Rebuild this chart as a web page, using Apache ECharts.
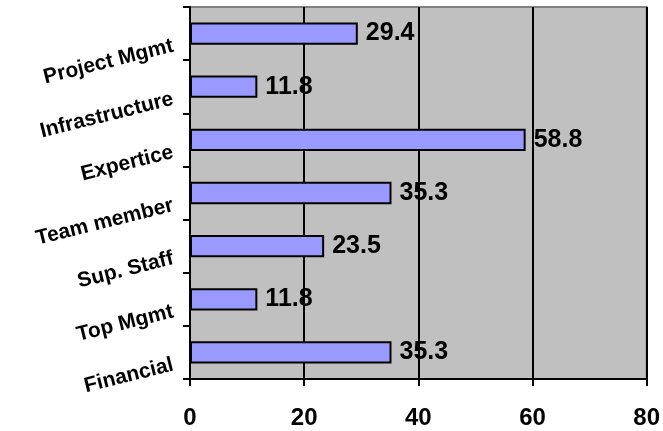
<!DOCTYPE html>
<html>
<head>
<meta charset="utf-8">
<script src="https://cdn.jsdelivr.net/npm/echarts@6/dist/echarts.min.js"></script>
<style>html,body{margin:0;padding:0;background:#fff;}#c{width:663px;height:431px;}</style>
</head>
<body>
<div id="c"></div>
<script>
// categories listed bottom to top
var categories = ['Financial', 'Top Mgmt', 'Sup. Staff', 'Team member', 'Expertice', 'Infrastructure', 'Project Mgmt'];
var values = [35.3, 11.8, 23.5, 35.3, 58.8, 11.8, 29.4];
var xTicks = [0, 20, 40, 60, 80];

var FONT = '"Liberation Sans", Arial, sans-serif';
var chart = echarts.init(document.getElementById('c'), null, {renderer: 'canvas'});
chart.setOption({
  animation: false,
  backgroundColor: '#ffffff',
  grid: {
    left: 190, right: 15, top: 7, bottom: 52,
    show: true, backgroundColor: '#C0C0C0', borderColor: '#808080', borderWidth: 2
  },
  xAxis: {
    type: 'value',
    min: xTicks[0], max: xTicks[xTicks.length - 1], interval: xTicks[1] - xTicks[0],
    axisLine: {show: true, lineStyle: {color: '#000', width: 2}},
    axisTick: {show: true, length: 7, lineStyle: {color: '#000', width: 2}},
    splitLine: {show: true, lineStyle: {color: '#000', width: 2}},
    axisLabel: {fontFamily: FONT, fontSize: 24, fontWeight: 'bold', color: '#000', margin: 27}
  },
  yAxis: {
    type: 'category',
    data: categories,
    axisLine: {show: true, lineStyle: {color: '#000', width: 2}},
    axisTick: {show: true, length: 7, lineStyle: {color: '#000', width: 2}},
    splitLine: {show: false},
    axisLabel: {
      fontFamily: FONT, fontSize: 21, fontWeight: 'bold', color: '#000',
      rotate: 14, margin: 20, verticalAlign: 'top', padding: [2, 0, 0, 0]
    }
  },
  series: [{
    type: 'bar',
    data: values,
    barCategoryGap: '58%',
    itemStyle: {color: '#9999FF', borderColor: '#000', borderWidth: 2},
    label: {
      show: true, position: 'right', distance: 8,
      fontFamily: FONT, fontSize: 25, fontWeight: 'bold', color: '#000',
      formatter: function (p) { return p.value.toFixed(1); }
    }
  }]
});
</script>
</body>
</html>
